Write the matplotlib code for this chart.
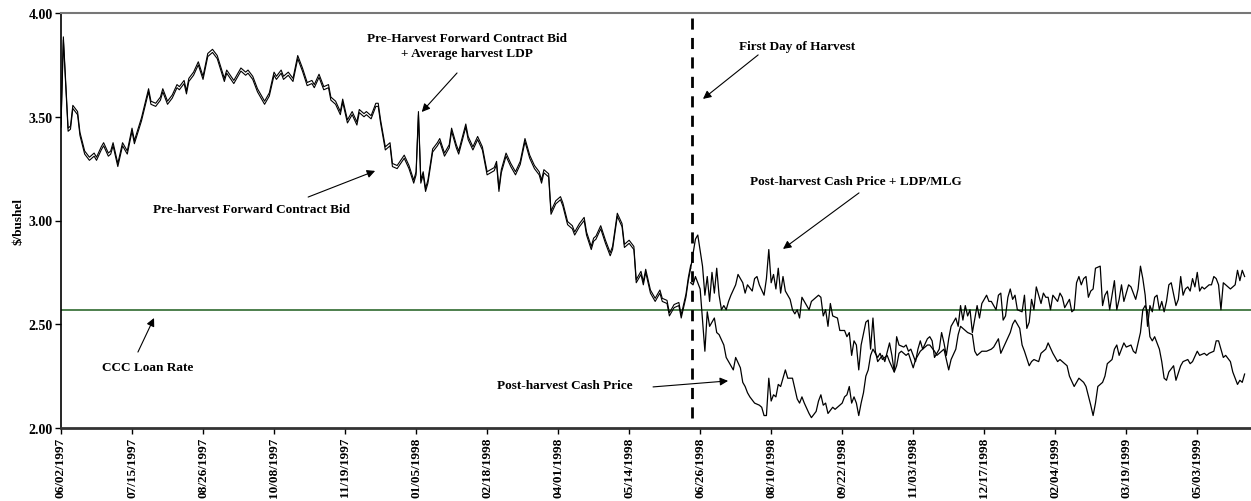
import numpy as np
import matplotlib
matplotlib.use("Agg")
import matplotlib.pyplot as plt

# trading-day index (0 = 06/02/1997) and prices in $/bushel
pre_days = [0, 1, 3, 4, 5, 7, 8, 10, 12, 14, 15, 17, 18, 20, 21, 22, 24, 26, 28, 30,
            31, 34, 37, 38, 40, 42, 43, 45, 47, 49, 50, 52, 53, 54, 56, 58, 60, 62, 64, 66,
            69, 70, 73, 76, 78, 79, 81, 83, 84, 86, 88, 90, 91, 93, 94, 96, 98, 100, 102, 104,
            106, 107, 109, 111, 113, 114, 116, 118, 119, 121, 123, 125, 126, 128, 129, 131, 133, 134, 135, 137,
            139, 140, 142, 145, 147, 149, 150, 151, 152, 153, 154, 155, 157, 159, 160, 162, 164, 165, 167, 168,
            171, 172, 174, 176, 178, 180, 183, 184, 185, 186, 188, 190, 192, 194, 196, 198, 200, 202, 203, 204,
            206, 207, 209, 211, 212, 214, 216, 217, 219, 221, 222, 224, 225, 226, 228, 230, 232, 233, 235, 237,
            238, 240, 242, 243, 245, 246, 247, 249, 251, 253, 254, 256, 257, 259, 261, 262, 264, 265, 266]
pre_bid = [3.45, 3.87, 3.43, 3.44, 3.54, 3.51, 3.41, 3.32, 3.29, 3.31, 3.29, 3.34, 3.36, 3.31, 3.32, 3.36, 3.26, 3.36, 3.32, 3.43,
           3.37, 3.48, 3.62, 3.56, 3.55, 3.58, 3.62, 3.56, 3.59, 3.64, 3.63, 3.66, 3.61, 3.67, 3.70, 3.75, 3.68, 3.79, 3.81, 3.78,
           3.67, 3.71, 3.66, 3.72, 3.70, 3.71, 3.68, 3.62, 3.60, 3.56, 3.60, 3.70, 3.68, 3.71, 3.68, 3.70, 3.67, 3.78, 3.72, 3.65,
           3.66, 3.64, 3.69, 3.63, 3.64, 3.58, 3.56, 3.51, 3.57, 3.47, 3.51, 3.46, 3.52, 3.50, 3.51, 3.49, 3.55, 3.55, 3.47, 3.34,
           3.36, 3.26, 3.25, 3.30, 3.25, 3.18, 3.22, 3.51, 3.18, 3.22, 3.14, 3.18, 3.33, 3.36, 3.38, 3.31, 3.35, 3.43, 3.35, 3.32,
           3.45, 3.39, 3.34, 3.39, 3.34, 3.22, 3.24, 3.27, 3.14, 3.23, 3.31, 3.26, 3.22, 3.27, 3.38, 3.30, 3.25, 3.22, 3.18, 3.23,
           3.21, 3.03, 3.08, 3.10, 3.07, 2.98, 2.96, 2.93, 2.97, 3.00, 2.93, 2.86, 2.90, 2.91, 2.96, 2.89, 2.83, 2.86, 3.02, 2.97,
           2.87, 2.89, 2.86, 2.70, 2.74, 2.69, 2.75, 2.65, 2.61, 2.65, 2.61, 2.60, 2.54, 2.58, 2.59, 2.53, 2.63, 2.71, 2.77]
avg_harvest_ldp = 0.015

post_ldp_days = [266, 268, 269, 271, 272, 273, 274, 275, 276, 277, 278, 279, 280, 281, 282, 283, 285, 286, 288, 289,
                 290, 292, 293, 294, 295, 297, 298, 299, 300, 301, 302, 303, 304, 305, 306, 308, 309, 310, 311, 312,
                 313, 314, 316, 317, 318, 320, 321, 322, 323, 324, 325, 326, 328, 329, 331, 332, 333, 334, 335, 336,
                 337, 338, 340, 341, 342, 343, 344, 345, 347, 348, 350, 351, 352, 353, 354, 356, 357, 358, 359, 361,
                 362, 363, 364, 366, 367, 368, 369, 371, 372, 373, 374, 375, 376, 378, 379, 380, 381, 382, 383, 384,
                 385, 387, 388, 389, 390, 391, 392, 393, 395, 396, 397, 398, 399, 400, 401, 402, 403, 404, 406, 407,
                 408, 409, 410, 411, 412, 414, 415, 416, 417, 418, 419, 421, 422, 423, 424, 426, 427, 428, 429, 430,
                 431, 432, 433, 434, 435, 436, 437, 439, 440, 441, 442, 443, 445, 446, 447, 448, 449, 451, 452, 454,
                 455, 456, 457, 458, 459, 460, 461, 462, 463, 464, 465, 466, 467, 468, 469, 471, 472, 473, 474, 475,
                 476, 477, 478, 479, 480, 481, 482, 483, 485, 486, 487, 488, 489, 490, 491, 492, 494, 495, 496, 497,
                 498, 499, 500]
post_cash_ldp = [2.77, 2.91, 2.93, 2.78, 2.64, 2.73, 2.61, 2.75, 2.65, 2.77, 2.64, 2.57, 2.59, 2.57, 2.61, 2.64, 2.69, 2.74, 2.70, 2.65,
                 2.69, 2.66, 2.72, 2.73, 2.69, 2.64, 2.72, 2.86, 2.70, 2.74, 2.67, 2.77, 2.65, 2.73, 2.66, 2.62, 2.57, 2.55, 2.57, 2.53,
                 2.63, 2.61, 2.57, 2.61, 2.62, 2.64, 2.63, 2.54, 2.57, 2.49, 2.60, 2.54, 2.53, 2.47, 2.47, 2.44, 2.46, 2.35, 2.42, 2.40,
                 2.28, 2.40, 2.51, 2.52, 2.38, 2.53, 2.37, 2.32, 2.35, 2.32, 2.41, 2.35, 2.27, 2.44, 2.40, 2.39, 2.40, 2.37, 2.38, 2.32,
                 2.38, 2.42, 2.38, 2.43, 2.44, 2.42, 2.34, 2.38, 2.46, 2.41, 2.35, 2.43, 2.49, 2.53, 2.49, 2.59, 2.52, 2.59, 2.54, 2.57,
                 2.46, 2.59, 2.53, 2.60, 2.62, 2.64, 2.61, 2.61, 2.57, 2.64, 2.65, 2.52, 2.54, 2.63, 2.67, 2.62, 2.64, 2.57, 2.56, 2.64,
                 2.48, 2.51, 2.62, 2.57, 2.68, 2.60, 2.65, 2.63, 2.63, 2.57, 2.64, 2.61, 2.65, 2.63, 2.58, 2.62, 2.56, 2.57, 2.70, 2.73,
                 2.69, 2.72, 2.73, 2.63, 2.66, 2.67, 2.77, 2.78, 2.59, 2.64, 2.66, 2.57, 2.71, 2.57, 2.62, 2.69, 2.61, 2.69, 2.68, 2.62,
                 2.67, 2.78, 2.72, 2.64, 2.49, 2.59, 2.56, 2.63, 2.64, 2.57, 2.61, 2.56, 2.61, 2.69, 2.70, 2.59, 2.62, 2.73, 2.64, 2.67,
                 2.68, 2.66, 2.72, 2.68, 2.75, 2.66, 2.68, 2.67, 2.69, 2.69, 2.73, 2.72, 2.69, 2.57, 2.70, 2.69, 2.67, 2.68, 2.69, 2.76,
                 2.71, 2.76, 2.73]

post_cash_days = [266, 267, 268, 270, 272, 273, 274, 276, 277, 278, 280, 281, 283, 284, 285, 287, 288, 289, 290, 291,
                  293, 295, 296, 297, 298, 299, 300, 301, 302, 303, 304, 305, 306, 307, 309, 310, 311, 312, 313, 314,
                  316, 317, 319, 320, 321, 322, 323, 324, 326, 327, 328, 330, 331, 332, 333, 334, 335, 336, 337, 338,
                  339, 340, 341, 342, 343, 345, 346, 347, 349, 350, 352, 353, 354, 355, 357, 358, 360, 361, 363, 364,
                  366, 367, 369, 370, 371, 373, 374, 375, 376, 378, 379, 380, 382, 383, 385, 386, 387, 389, 391, 393,
                  394, 396, 397, 399, 401, 402, 403, 405, 406, 407, 409, 410, 411, 413, 414, 416, 417, 419, 421, 422,
                  423, 425, 426, 428, 430, 432, 433, 435, 436, 437, 438, 440, 441, 442, 444, 445, 446, 447, 449, 450,
                  452, 453, 454, 456, 457, 458, 459, 460, 461, 462, 464, 465, 466, 467, 468, 470, 471, 473, 474, 476,
                  477, 478, 480, 481, 483, 484, 485, 487, 488, 489, 491, 492, 494, 495, 497, 498, 499, 500]
post_cash = [2.70, 2.69, 2.73, 2.67, 2.37, 2.56, 2.49, 2.53, 2.46, 2.45, 2.40, 2.34, 2.30, 2.28, 2.34, 2.29, 2.22, 2.20, 2.17, 2.15,
             2.12, 2.11, 2.10, 2.06, 2.06, 2.24, 2.13, 2.16, 2.15, 2.21, 2.20, 2.24, 2.28, 2.24, 2.24, 2.19, 2.14, 2.12, 2.15, 2.12,
             2.07, 2.05, 2.08, 2.13, 2.16, 2.11, 2.12, 2.07, 2.10, 2.09, 2.10, 2.12, 2.15, 2.16, 2.20, 2.12, 2.15, 2.12, 2.06, 2.12,
             2.17, 2.25, 2.28, 2.35, 2.38, 2.34, 2.36, 2.33, 2.35, 2.32, 2.27, 2.30, 2.36, 2.37, 2.35, 2.36, 2.29, 2.33, 2.37, 2.38,
             2.40, 2.40, 2.37, 2.35, 2.36, 2.38, 2.33, 2.28, 2.33, 2.38, 2.45, 2.49, 2.47, 2.46, 2.45, 2.37, 2.35, 2.37, 2.37, 2.38,
             2.39, 2.43, 2.36, 2.41, 2.46, 2.50, 2.52, 2.48, 2.40, 2.37, 2.30, 2.32, 2.33, 2.32, 2.36, 2.38, 2.41, 2.36, 2.32, 2.33,
             2.32, 2.30, 2.25, 2.20, 2.24, 2.22, 2.20, 2.11, 2.06, 2.12, 2.20, 2.22, 2.25, 2.31, 2.33, 2.38, 2.40, 2.35, 2.41, 2.39,
             2.40, 2.37, 2.36, 2.46, 2.57, 2.59, 2.56, 2.44, 2.42, 2.44, 2.38, 2.32, 2.24, 2.23, 2.27, 2.30, 2.23, 2.30, 2.32, 2.33,
             2.31, 2.32, 2.37, 2.35, 2.36, 2.35, 2.36, 2.37, 2.42, 2.42, 2.34, 2.35, 2.32, 2.27, 2.21, 2.23, 2.22, 2.26]

ccc_loan_rate = 2.57
first_harvest_day = 266.6

tick_days = [0, 30, 60, 90, 120, 150, 180, 210, 240, 270, 300, 330, 360, 390, 420, 450, 480]
tick_labels = ["06/02/1997", "07/15/1997", "08/26/1997", "10/08/1997", "11/19/1997", "01/05/1998",
               "02/18/1998", "04/01/1998", "05/14/1998", "06/26/1998", "08/10/1998", "09/22/1998",
               "11/03/1998", "12/17/1998", "02/04/1999", "03/19/1999", "05/03/1999"]

plt.rcParams["font.family"] = ["Liberation Serif", "DejaVu Serif"]
plt.rcParams["font.weight"] = "bold"

fig = plt.figure(figsize=(12.51, 5.02), dpi=100)
ax = fig.add_axes([61 / 1251, 73 / 502, 1190 / 1251, 415 / 502])

pre_bid = np.array(pre_bid)
ax.plot(pre_days, pre_bid + avg_harvest_ldp, color="black", lw=0.8)
ax.plot(pre_days, pre_bid, color="black", lw=0.8)
ax.plot(post_ldp_days, post_cash_ldp, color="black", lw=0.9)
ax.plot(post_cash_days, post_cash, color="black", lw=0.9)

ax.axhline(ccc_loan_rate, color="#2f6a2f", lw=1.2, zorder=1)
ax.vlines(first_harvest_day, 2.05, 3.98, colors="black", linestyles=(0, (4, 3)), lw=2)

ax.set_xlim(0, 502.7)
ax.set_ylim(2.0, 4.0)
ax.set_yticks([2.0, 2.5, 3.0, 3.5, 4.0])
ax.set_yticklabels(["%.2f" % v for v in [2.0, 2.5, 3.0, 3.5, 4.0]], fontsize=10, fontweight="bold")
ax.set_xticks(tick_days)
ax.set_xticklabels(tick_labels, rotation=90, fontsize=9.5, fontweight="bold")
ax.tick_params(direction="out", length=4, width=1, pad=2)
ax.set_ylabel("$/bushel", fontsize=9.5, fontweight="bold", labelpad=3)

ax.spines["right"].set_visible(False)
ax.spines["top"].set_color("#777777")
ax.spines["top"].set_linewidth(1.5)
ax.spines["left"].set_linewidth(1.2)
ax.spines["bottom"].set_color("#333333")
ax.spines["bottom"].set_linewidth(2)

arrow = dict(arrowstyle="-|>", color="black", lw=0.8, mutation_scale=12, shrinkA=0, shrinkB=0)
txt = dict(fontsize=9.5, fontweight="bold", ha="center", va="center")

ax.text(171.5, 3.845, "Pre-Harvest Forward Contract Bid\n+ Average harvest LDP", linespacing=1.3, **txt)
ax.annotate("", xy=(152.4, 3.523), xytext=(167.3, 3.711), arrowprops=arrow)

ax.text(311, 3.84, "First Day of Harvest", **txt)
ax.annotate("", xy=(271.2, 3.586), xytext=(294.5, 3.798), arrowprops=arrow)

ax.text(335.9, 3.19, "Post-harvest Cash Price + LDP/MLG", **txt)
ax.annotate("", xy=(305, 2.863), xytext=(337.1, 3.133), arrowprops=arrow)

ax.text(80.3, 3.055, "Pre-harvest Forward Contract Bid", **txt)
ax.annotate("", xy=(132.7, 3.239), xytext=(104.4, 3.113), arrowprops=arrow)

ax.text(36.6, 2.295, "CCC Loan Rate", **txt)
ax.annotate("", xy=(39.3, 2.53), xytext=(32.5, 2.366), arrowprops=arrow)

ax.text(212.9, 2.207, "Post-harvest Cash Price", **txt)
ax.annotate("", xy=(281.8, 2.227), xytext=(250.1, 2.198), arrowprops=arrow)

fig.savefig("out.png", dpi=100)
plt.close(fig)
